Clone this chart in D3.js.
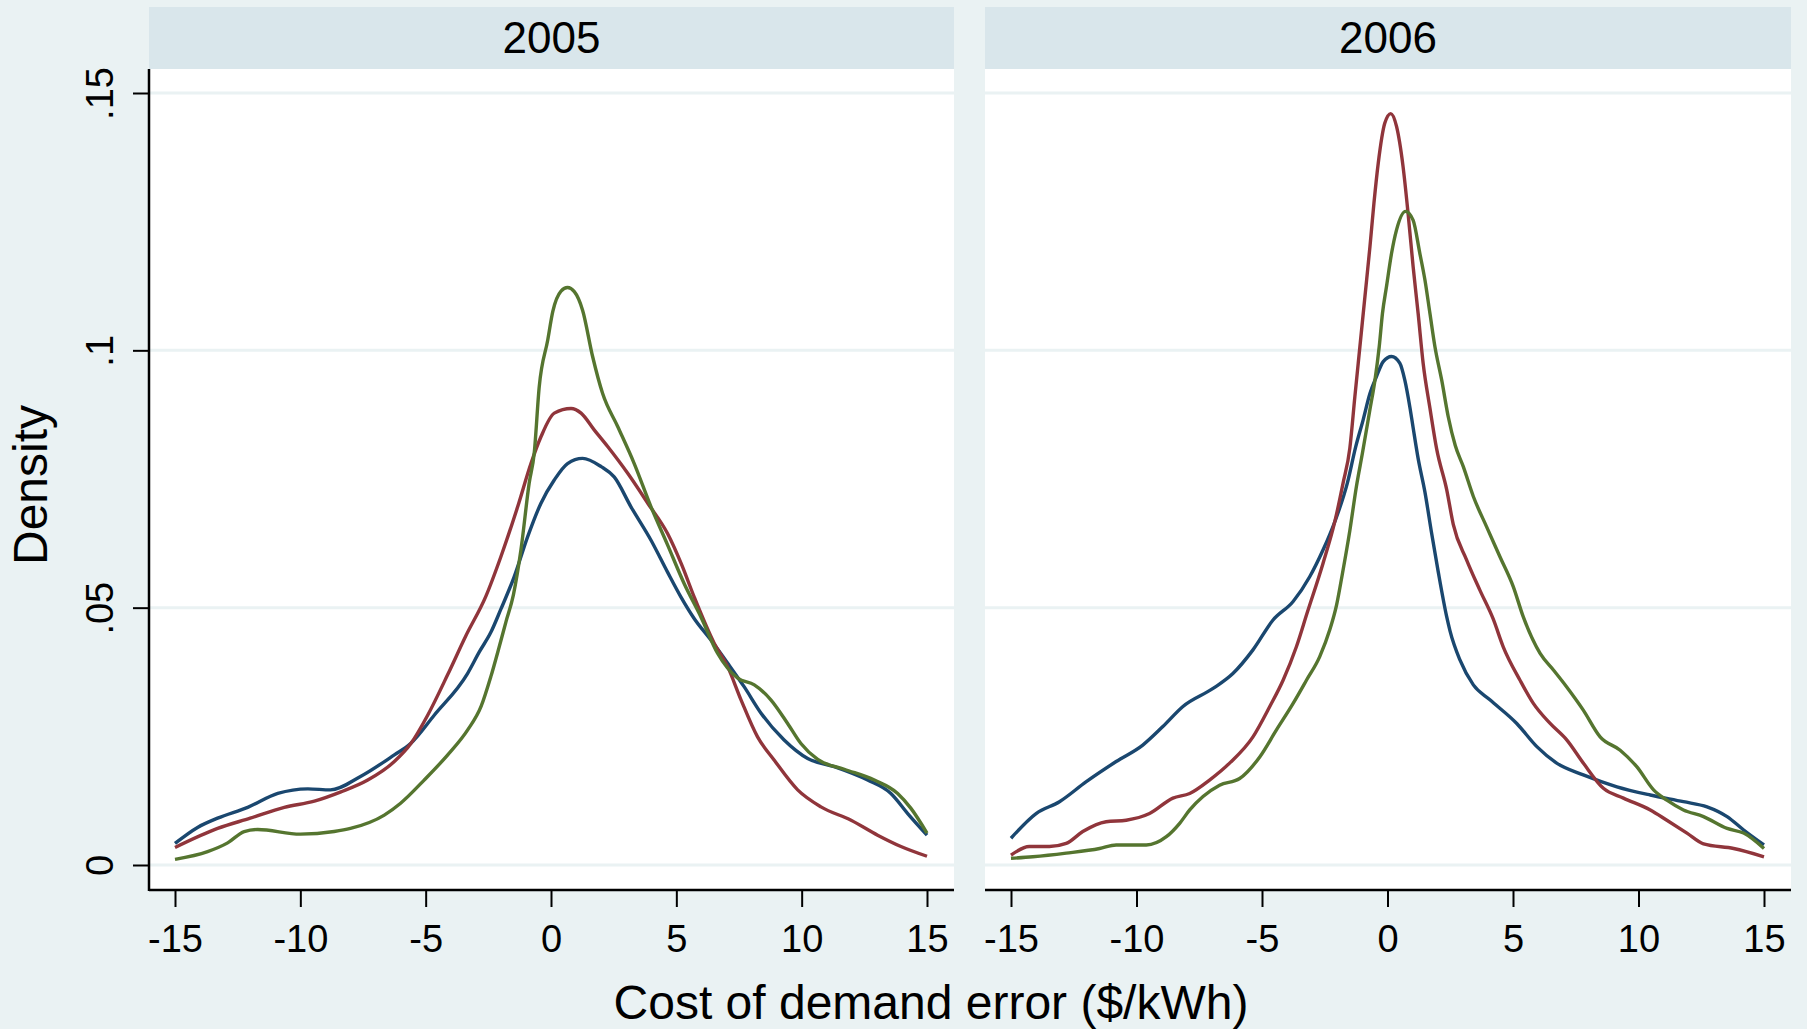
<!DOCTYPE html>
<html>
<head>
<meta charset="utf-8">
<script src="https://cdn.jsdelivr.net/npm/d3@7"></script>
<style>
    body { margin: 0; background: #eaf2f3; }
    svg { display: block; font-family: "Liberation Sans", Arial, sans-serif; }
</style>
</head>
<body>
<div id="chart"></div>
<script>

/* * * * * * * * * * * * * *
*      kernel densities     *
* * * * * * * * * * * * * */

// values: [cost of demand error, density]
const years = ["2005", "2006"];
const xTicks = [-15, -10, -5, 0, 5, 10, 15];
const yTicks = [0, 0.05, 0.1, 0.15];
const yTickLabels = ["0", ".05", ".1", ".15"];
const lineColors = ["#1a476f", "#90353b", "#55752f"];

const blue2005 = [[-15, .0042], [-14.1, .0073], [-13.3, .0091], [-12.1, .0112], [-10.9, .0139], [-9.7, .0148],
    [-8.8, .0146], [-7.6, .0172], [-6.25, .0214], [-5.6, .0236], [-4.66, .0291], [-3.33, .0372], [-2.86, .0414],
    [-2.4, .0452], [-2.0, .0497], [-1.47, .056], [-0.93, .0638], [-0.4, .0703], [0.13, .0748], [0.66, .078],
    [1.26, .079], [2.0, .0774], [2.52, .0754], [3.19, .0696], [3.99, .0631], [4.65, .0569], [5.18, .0521],
    [5.71, .0479], [6.38, .0437], [7.05, .0392], [7.71, .0346], [8.38, .0295], [9.3, .0243], [10.24, .0207],
    [11.3, .0191], [12.63, .0165], [13.56, .0139], [14.23, .01], [15, .0058]];

const red2005 = [[-15, .0034], [-13.3, .0071], [-12.0, .0091], [-10.64, .0112], [-9.44, .0124], [-8.38, .0142],
    [-7.31, .0165], [-6.25, .0201], [-5.59, .0236], [-4.92, .0291], [-4.12, .0370], [-3.4, .0445], [-2.6, .0522],
    [-2.0, .0599], [-1.33, .0696], [-0.8, .078], [-0.4, .0832], [0.13, .0878], [0.8, .0887], [1.2, .0878],
    [1.73, .0845], [2.26, .0813], [3.06, .0761], [3.86, .0703], [4.65, .0644], [5.2, .0585], [5.71, .0521],
    [6.51, .0431], [7.05, .0385], [7.58, .0321], [8.24, .0249], [8.9, .0204], [9.84, .0146], [10.77, .0113],
    [11.97, .0087], [13.03, .0058], [13.96, .0036], [15, .0017]];

const green2005 = [[-15, .0011], [-13.7, .0026], [-12.9, .0043], [-12.24, .0065], [-11.7, .0069], [-10.0, .006],
    [-8.65, .0065], [-8.0, .0071], [-6.65, .0097], [-6.0, .012], [-5.06, .0165], [-4.12, .0214], [-3.33, .0262],
    [-2.79, .0308], [-2.4, .0366], [-2.06, .0425], [-1.8, .0472], [-1.5, .0525], [-1.2, .0612], [-0.87, .0742],
    [-0.67, .080], [-0.47, .0929], [-0.13, .102], [0.07, .1075], [0.4, .1115], [0.66, .1122], [0.93, .1114],
    [1.26, .1078], [1.66, .0988], [2.06, .0916], [2.66, .0852], [3.32, .078], [3.99, .0696], [4.65, .0622],
    [5.31, .0547], [5.98, .0482], [6.65, .0411], [7.45, .0363], [8.11, .035], [8.77, .0321], [9.44, .0275],
    [9.97, .0236], [10.64, .0205], [11.7, .0186], [12.9, .0165], [13.83, .0139], [14.36, .011], [15, .0062]];

const blue2006 = [[-15, .0052], [-14.0, .01], [-13.07, .0123], [-12.0, .0162], [-10.81, .0201], [-9.75, .0233],
    [-8.95, .0269], [-8.15, .0308], [-6.95, .0343], [-6.16, .0372], [-5.36, .0418], [-4.56, .0476], [-3.76, .0512],
    [-3.1, .056], [-2.57, .0612], [-2.1, .0667], [-1.6, .0742], [-1.27, .0812], [-0.97, .0865], [-0.7, .0916],
    [-0.44, .0949], [-0.17, .0978], [0.16, .0988], [0.49, .0975], [0.69, .0942], [0.89, .089], [1.02, .085],
    [1.22, .079], [1.49, .0725], [1.76, .0644], [2.02, .057], [2.36, .0482], [2.49, .0455], [2.89, .0398],
    [3.42, .035], [4.08, .0321], [5.15, .0275], [5.95, .023], [6.74, .0198], [7.8, .0175], [9.14, .0152],
    [10.47, .0136], [11.79, .0123], [12.73, .0113], [13.53, .0094], [14.19, .0068], [15, .0039]];

const red2006 = [[-15, .0019], [-14.27, .0036], [-13.47, .0036], [-12.8, .0042], [-12.14, .0065], [-11.21, .0084],
    [-10.41, .0087], [-9.48, .01], [-8.55, .013], [-7.88, .0139], [-7.09, .0165], [-6.29, .0198], [-5.36, .0249],
    [-4.69, .0308], [-4.16, .0359], [-3.63, .0424], [-3.2, .049], [-2.57, .0586], [-2.1, .0667], [-1.77, .0742],
    [-1.5, .081], [-1.3, .091], [-1.1, .1007], [-0.9, .1104], [-0.7, .1201], [-0.54, .1286], [-0.37, .1363],
    [-0.11, .1441], [0.13, .146], [0.36, .1435], [0.62, .1357], [0.82, .1266], [1.02, .1163], [1.22, .1072],
    [1.42, .0975], [1.69, .0888], [1.96, .0808], [2.36, .0729], [2.62, .0662], [3.15, .0593], [3.68, .0534],
    [4.21, .0478], [4.61, .0424], [5.28, .0359], [5.81, .0314], [6.48, .0275], [7.14, .0243], [7.8, .0198],
    [8.6, .0149], [9.4, .013], [10.47, .0107], [11.13, .0087], [11.93, .0062], [12.59, .0041], [13.79, .0032],
    [15, .0016]];

const green2006 = [[-15, .0013], [-14.13, .0016], [-12.8, .0023], [-11.47, .0032], [-10.81, .0039], [-9.61, .0039],
    [-8.81, .0055], [-8.28, .0081], [-7.88, .0107], [-7.35, .0133], [-6.69, .0155], [-5.89, .0168], [-5.09, .021],
    [-4.43, .0262], [-3.76, .0314], [-3.23, .0359], [-2.7, .0405], [-2.3, .0457], [-2.03, .0505], [-1.8, .0565],
    [-1.5, .065], [-1.24, .0735], [-1.0, .08], [-0.7, .0885], [-0.5, .0942], [-0.33, .1007], [-0.2, .1072],
    [-0.04, .1124], [0.16, .1188], [0.36, .1234], [0.72, .127], [1.02, .1253], [1.29, .1188], [1.49, .1137],
    [1.69, .1072], [1.89, .1007], [2.16, .0942], [2.42, .0871], [2.7, .0815], [3.02, .0774], [3.42, .0716],
    [3.95, .0657], [4.48, .0599], [5.01, .0541], [5.41, .0482], [6.08, .0411], [6.61, .0379], [7.14, .0346],
    [7.8, .0301], [8.47, .0249], [9.27, .0223], [9.93, .0191], [10.6, .0146], [11.13, .0126], [11.79, .0107],
    [12.59, .0094], [13.53, .0071], [14.19, .0062], [15, .0032]];

const panelSeries = [[blue2005, red2005, green2005], [blue2006, red2006, green2006]];


const W = 1807, H = 1029;
const svg = d3.select("#chart").append("svg")
    .attr("width", W)
    .attr("height", H);

svg.append("rect")
    .attr("width", W).attr("height", H)
    .attr("fill", "#eaf2f3");

// panel boxes (left edge, right edge)
const panelBox = [[149, 954], [985, 1791]];
const headTop = 7, plotTop = 69, plotBottom = 890;

const y = d3.scaleLinear()
    .domain([0, 0.15])
    .range([865, 93]);

const line = d3.line()
    .curve(d3.curveMonotoneX)
    .x(d => d[0])
    .y(d => d[1]);

years.forEach(function(year, i) {
    let left = panelBox[i][0], right = panelBox[i][1];

    let x = d3.scaleLinear()
        .domain([-15, 15])
        .range([left + 26, right - 27]);

    let g = svg.append("g").attr("class", "panel");

    // header strip
    g.append("rect")
        .attr("x", left).attr("y", headTop)
        .attr("width", right - left).attr("height", plotTop - headTop)
        .attr("fill", "#d9e6eb");

    g.append("text")
        .attr("x", (left + right) / 2)
        .attr("y", 53)
        .attr("text-anchor", "middle")
        .style("font-size", "44px")
        .text(year);

    // plot region
    g.append("rect")
        .attr("x", left).attr("y", plotTop)
        .attr("width", right - left).attr("height", plotBottom - plotTop)
        .attr("fill", "#fff");

    g.selectAll(".grid")
        .data(yTicks)
        .enter().append("line")
        .attr("class", "grid")
        .attr("x1", left).attr("x2", right)
        .attr("y1", d => y(d)).attr("y2", d => y(d))
        .attr("stroke", "#eaf2f3")
        .attr("stroke-width", 3);

    // density curves
    g.selectAll(".density")
        .data(panelSeries[i])
        .enter().append("path")
        .attr("class", "density")
        .attr("d", s => line(s.map(p => [x(p[0]), y(p[1])])))
        .attr("fill", "none")
        .attr("stroke", (s, k) => lineColors[k])
        .attr("stroke-width", 3.4)
        .attr("stroke-linejoin", "round");

    // x axis
    let xAxis = d3.axisBottom(x)
        .tickValues(xTicks)
        .tickSize(17)
        .tickPadding(10)
        .tickFormat(d3.format("d"));

    let xg = g.append("g")
        .attr("transform", "translate(0," + plotBottom + ")")
        .call(xAxis);
    xg.select(".domain").remove();
    xg.selectAll(".tick line").attr("stroke-width", 2);
    xg.selectAll(".tick text")
        .attr("dy", null)
        .attr("y", 62)
        .style("font-size", "38px")
        .style("font-family", "\"Liberation Sans\", Arial, sans-serif")
        .text(d => d < 0 ? "-" + Math.abs(d) : d);

    g.append("line")
        .attr("x1", left).attr("x2", right)
        .attr("y1", plotBottom).attr("y2", plotBottom)
        .attr("stroke", "#000")
        .attr("stroke-width", 2.5);
});

// y axis, only on the first panel
let yAxis = d3.axisLeft(y)
    .tickValues(yTicks)
    .tickSize(16)
    .tickFormat((d, k) => yTickLabels[k]);

let yg = svg.append("g")
    .attr("transform", "translate(" + panelBox[0][0] + ",0)")
    .call(yAxis);
yg.select(".domain").remove();
yg.selectAll(".tick line").attr("stroke-width", 2);
yg.selectAll(".tick text")
    .attr("x", null).attr("dy", null)
    .attr("transform", "translate(-36,0) rotate(-90)")
    .attr("text-anchor", "middle")
    .style("font-size", "38px")
    .style("font-family", "\"Liberation Sans\", Arial, sans-serif");

svg.append("line")
    .attr("x1", panelBox[0][0]).attr("x2", panelBox[0][0])
    .attr("y1", plotTop).attr("y2", plotBottom + 1)
    .attr("stroke", "#000")
    .attr("stroke-width", 2.5);

// axis titles
svg.append("text")
    .attr("x", 931)
    .attr("y", 1019)
    .attr("text-anchor", "middle")
    .style("font-size", "48px")
    .text("Cost of demand error ($/kWh)");

svg.append("text")
    .attr("transform", "translate(47,485) rotate(-90)")
    .attr("text-anchor", "middle")
    .style("font-size", "48px")
    .text("Density");

</script>
</body>
</html>
